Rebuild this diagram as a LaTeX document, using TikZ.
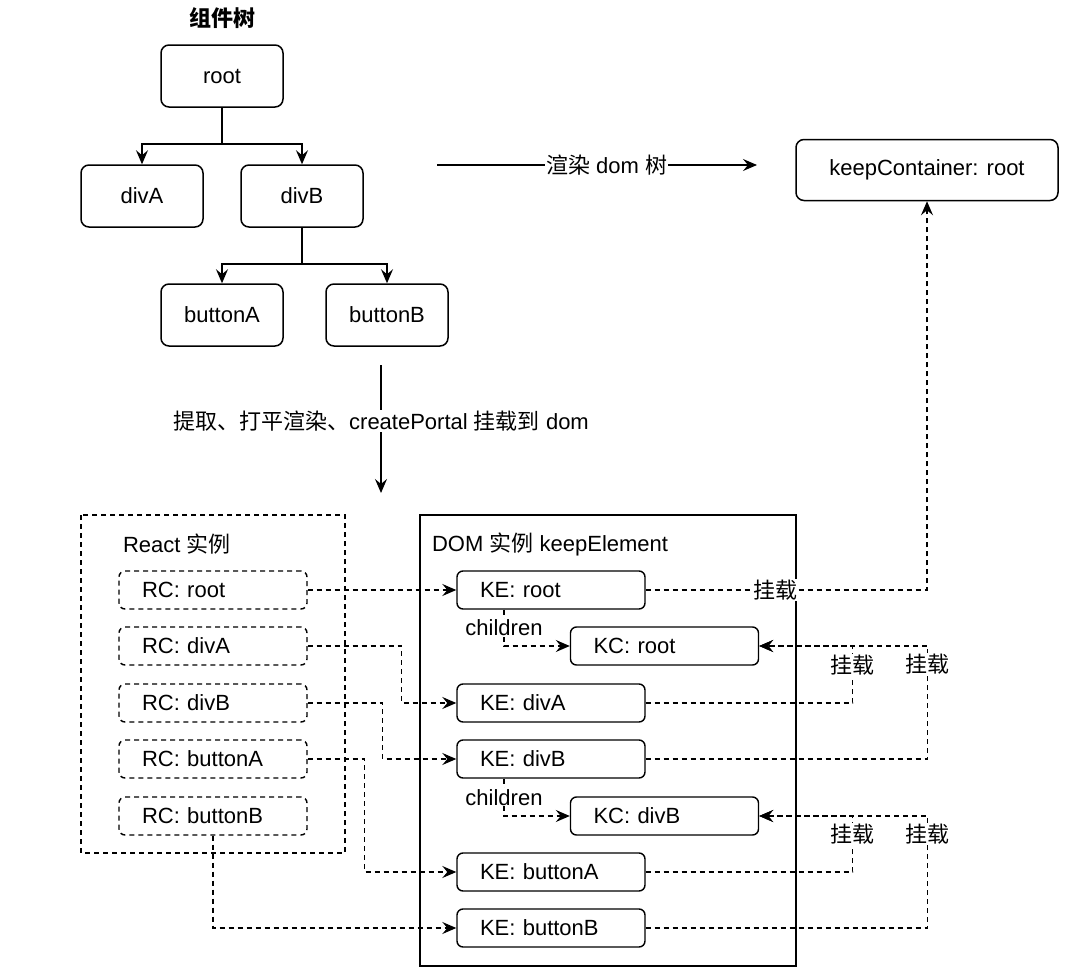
\documentclass[tikz,border=0pt]{standalone}
\usepackage{fontspec}
\setmainfont{Liberation Sans}
\newfontfamily\cjk{Noto Sans CJK SC}
\newcommand{\zhtxt}[1]{{\cjk #1}}
\usetikzlibrary{arrows.meta, positioning}

\tikzset{
  every node/.style={font=\fontsize{22}{26}\selectfont},
  treebox/.style={draw, line width=1.5pt, rounded corners=8pt, minimum width=122pt, minimum height=62pt},
  rcbox/.style={draw, line width=1.4pt, dash pattern=on 5pt off 4pt, rounded corners=6pt,
    minimum height=38pt, text width=142pt, inner xsep=23pt, align=left},
  kebox/.style={rcbox, solid},
  link/.style={line width=1.4pt, dash pattern=on 5pt off 4pt},
  labelbg/.style={fill=white, inner sep=1pt},
  tip/.style={-{Stealth[length=14pt, width=12pt, inset=5pt]}},
}

\begin{document}
\begin{tikzpicture}[x=1pt, y=-1pt, line width=1.5pt]
    \useasboundingbox (0,0) rectangle (1080,980);

    % Component tree
    \node[font=\fontsize{22}{26}\selectfont\bfseries] (title) at (222,18) {\zhtxt{组件树}};
    \node[treebox] (root) at (222,76) {root};
    \node[treebox] (divA) at (142,196) {divA};
    \node[treebox] (divB) at (302,196) {divB};
    \node[treebox] (buttonA) at (222,315) {buttonA};
    \node[treebox] (buttonB) at (387,315) {buttonB};

    \coordinate (rootfork) at (222,144);
    \coordinate (divBfork) at (302,264);
    \draw[tip] (root.south) -- (rootfork) -| (divA.north);
    \draw[tip] (rootfork) -| (divB.north);
    \draw[tip] (divB.south) -- (divBfork) -| (buttonA.north);
    \draw[tip] (divBfork) -| (buttonB.north);

    % Render to dom tree
    \node[treebox, minimum width=262pt, minimum height=61pt] (keep) at (927,170) {keepContainer: root};
    \coordinate (renderstart) at (437,165);
    \coordinate (renderend) at (757,165);
    \draw[tip] (renderstart) -- node[labelbg, pos=0.53] {\zhtxt{渲染} dom \zhtxt{树}} (renderend);

    % Flatten
    \coordinate (flatstart) at (381,365);
    \coordinate (flatend) at (381,493);
    \draw[tip] (flatstart) -- node[labelbg, pos=0.44] {\zhtxt{提取、打平渲染、}createPortal \zhtxt{挂载到} dom} (flatend);

    % Frames
    \draw[link] (81,515) rectangle (345,853);
    \node[anchor=west] (reactlabel) at (119,544) {React \zhtxt{实例}};
    \draw (420,515) rectangle (796,966);
    \node[anchor=west] (domlabel) at (428,544) {DOM \zhtxt{实例} keepElement};

    % React instances
    \node[rcbox] (rcroot) at (213,590) {RC: root};
    \node[rcbox] (rcdivA) at (213,646) {RC: divA};
    \node[rcbox] (rcdivB) at (213,703) {RC: divB};
    \node[rcbox] (rcbuttonA) at (213,759) {RC: buttonA};
    \node[rcbox] (rcbuttonB) at (213,816) {RC: buttonB};

    % DOM instances
    \node[kebox, fill=white] (keroot) at (551,590) {KE: root};
    \node[kebox, fill=white] (kcroot) at (664.5,646) {KC: root};
    \node[kebox, fill=white] (kedivA) at (551,703) {KE: divA};
    \node[kebox, fill=white] (kedivB) at (551,759) {KE: divB};
    \node[kebox, fill=white] (kcdivB) at (664.5,816) {KC: divB};
    \node[kebox, fill=white] (kebuttonA) at (551,872) {KE: buttonA};
    \node[kebox, fill=white] (kebuttonB) at (551,928) {KE: buttonB};

    % RC -> KE
    \draw[link, tip] (rcroot.east) -- (keroot.west);
    \draw[link, tip] (rcdivA.east) -- ++(94,0) |- (kedivA.west);
    \draw[link, tip] (rcdivB.east) -- ++(75,0) |- (kedivB.west);
    \draw[link, tip] (rcbuttonA.east) -- ++(57,0) |- (kebuttonA.west);
    \draw[link, tip] (rcbuttonB.south) |- (kebuttonB.west);

    % Children
    \draw[link, tip] ([xshift=-47pt]keroot.south) |- node[labelbg, pos=0.25] {children} (kcroot.west);
    \draw[link, tip] ([xshift=-47pt]kedivB.south) |- node[labelbg, pos=0.25] {children} (kcdivB.west);

    % Mount
    \draw[link, tip] (keroot.east) -| node[labelbg, pos=0.23] {\zhtxt{挂载}} (keep.south);
    \draw[link, tip] (kedivA.east) -- ++(207,0) |- node[labelbg, pos=0.33] {\zhtxt{挂载}} (kcroot.east);
    \draw[link, tip] (kedivB.east) -- ++(282,0) |- node[labelbg, pos=0.42] {\zhtxt{挂载}} (kcroot.east);
    \draw[link, tip] (kebuttonA.east) -- ++(207,0) |- node[labelbg, pos=0.34] {\zhtxt{挂载}} (kcdivB.east);
    \draw[link, tip] (kebuttonB.east) -- ++(282,0) |- node[labelbg, pos=0.42] {\zhtxt{挂载}} (kcdivB.east);
\end{tikzpicture}
\end{document}
